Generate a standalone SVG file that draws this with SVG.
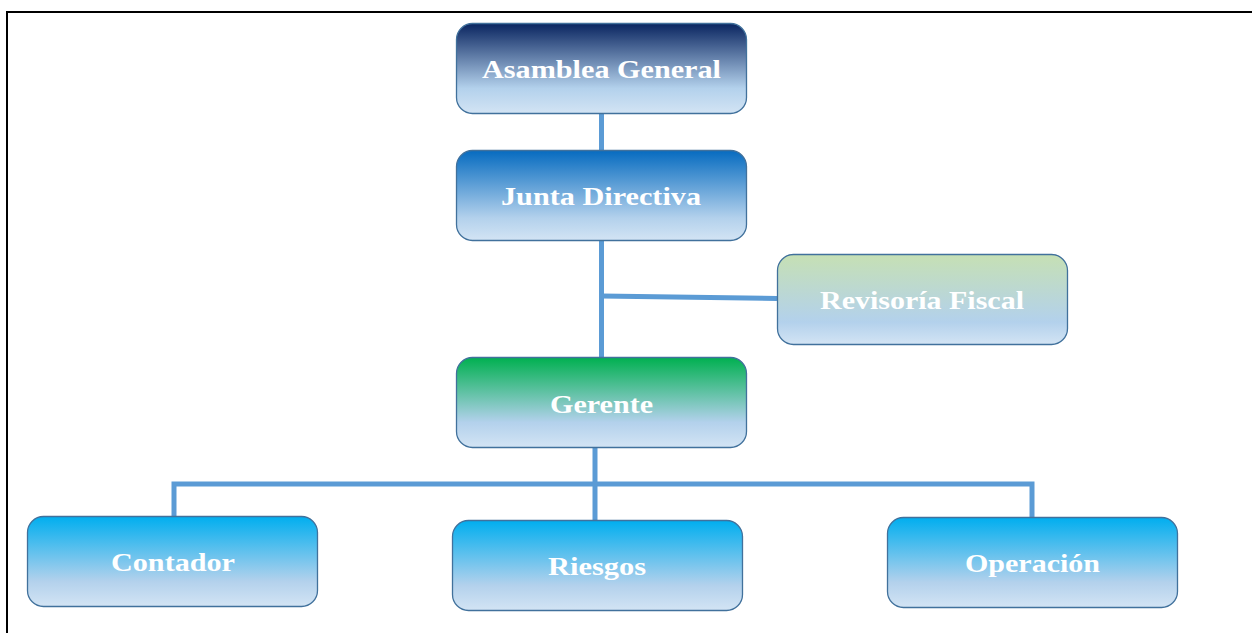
<svg xmlns="http://www.w3.org/2000/svg" width="1252" height="633" viewBox="0 0 1252 633">
<defs>
<linearGradient id="gNavy" x1="0" y1="0" x2="0" y2="1">
<stop offset="0" stop-color="#0a2560"/><stop offset="0.72" stop-color="#b3d1ec"/><stop offset="1" stop-color="#d3e4f4"/>
</linearGradient>
<linearGradient id="gBlue" x1="0" y1="0" x2="0" y2="1">
<stop offset="0" stop-color="#066bc0"/><stop offset="0.75" stop-color="#b3d1ec"/><stop offset="1" stop-color="#d3e4f4"/>
</linearGradient>
<linearGradient id="gGreen" x1="0" y1="0" x2="0" y2="1">
<stop offset="0" stop-color="#00b050"/><stop offset="0.72" stop-color="#b3d1ec"/><stop offset="1" stop-color="#d3e4f4"/>
</linearGradient>
<linearGradient id="gLime" x1="0" y1="0" x2="0" y2="1">
<stop offset="0" stop-color="#c6e0b4"/><stop offset="0.75" stop-color="#b3d1ec"/><stop offset="1" stop-color="#d3e4f4"/>
</linearGradient>
<linearGradient id="gCyan" x1="0" y1="0" x2="0" y2="1">
<stop offset="0" stop-color="#00aeef"/><stop offset="0.72" stop-color="#b3d1ec"/><stop offset="1" stop-color="#d3e4f4"/>
</linearGradient>
</defs>
<style>
.box{stroke:#41719c;stroke-width:1.3}
.lbl{font-family:"Liberation Serif","Times New Roman",serif;font-weight:bold;font-size:25px;fill:#ffffff;text-anchor:middle;dominant-baseline:central}
.con{stroke:#5b9bd5;stroke-width:5;fill:none}
</style>
<rect width="1252" height="633" fill="#ffffff"/>
<path d="M7 633 V12 H1252" fill="none" stroke="#000000" stroke-width="2"/>
<g id="connectors">
<line class="con" x1="601.5" y1="113" x2="601.5" y2="150"/>
<line class="con" x1="601.5" y1="240" x2="601.5" y2="357"/>
<line class="con" x1="601.5" y1="296" x2="777" y2="298.5"/>
<line class="con" x1="595" y1="447" x2="595" y2="520"/>
<polyline class="con" points="174,518 174,484 1032,484 1032,518"/>
</g>
<g id="asamblea"><rect class="box" x="456.5" y="23.5" width="290" height="90" rx="16" fill="url(#gNavy)"/><text class="lbl" x="601.5" y="69" textLength="239" lengthAdjust="spacingAndGlyphs">Asamblea General</text></g>
<g id="junta"><rect class="box" x="456.5" y="150.5" width="290" height="90" rx="16" fill="url(#gBlue)"/><text class="lbl" x="601" y="196" textLength="200" lengthAdjust="spacingAndGlyphs">Junta Directiva</text></g>
<g id="revisoria"><rect class="box" x="777.5" y="254.5" width="290" height="90" rx="16" fill="url(#gLime)"/><text class="lbl" x="922" y="300" textLength="204" lengthAdjust="spacingAndGlyphs">Revisoría Fiscal</text></g>
<g id="gerente"><rect class="box" x="456.5" y="357.5" width="290" height="90" rx="16" fill="url(#gGreen)"/><text class="lbl" x="601.5" y="404" textLength="103" lengthAdjust="spacingAndGlyphs">Gerente</text></g>
<g id="contador"><rect class="box" x="27.5" y="516.5" width="290" height="90" rx="16" fill="url(#gCyan)"/><text class="lbl" x="173" y="562" textLength="124" lengthAdjust="spacingAndGlyphs">Contador</text></g>
<g id="riesgos"><rect class="box" x="452.5" y="520.5" width="290" height="90" rx="16" fill="url(#gCyan)"/><text class="lbl" x="597" y="566" textLength="98" lengthAdjust="spacingAndGlyphs">Riesgos</text></g>
<g id="operacion"><rect class="box" x="887.5" y="517.5" width="290" height="90" rx="16" fill="url(#gCyan)"/><text class="lbl" x="1032.5" y="563" textLength="135" lengthAdjust="spacingAndGlyphs">Operación</text></g>
</svg>
